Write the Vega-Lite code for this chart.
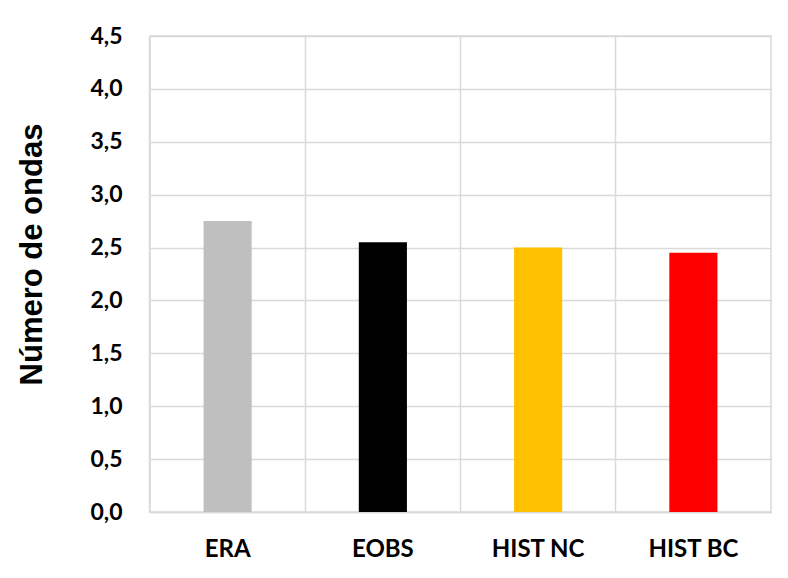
{
  "$schema": "https://vega.github.io/schema/vega-lite/v6.json",
  "autosize": "none",
  "width": 621,
  "height": 476,
  "padding": {"left": 150, "top": 36, "right": 17, "bottom": 66},
  "background": "white",
  "data": {"values": [
    {"modelo": "ERA", "ondas": 2.75},
    {"modelo": "EOBS", "ondas": 2.55},
    {"modelo": "HIST NC", "ondas": 2.5},
    {"modelo": "HIST BC", "ondas": 2.45}
  ]},
  "config": {
    "view": {"stroke": "#d9d9d9", "strokeWidth": 1.5},
    "axis": {"gridColor": "#d9d9d9", "gridWidth": 1.5, "domainColor": "#d9d9d9", "domainWidth": 1.5, "ticks": false}
  },
  "mark": {"type": "bar"},
  "encoding": {
    "x": {
      "field": "modelo", "type": "nominal", "sort": null,
      "scale": {"paddingInner": 0.69, "paddingOuter": 0.345},
      "axis": {"title": null, "labelAngle": 0, "grid": true, "bandPosition": -1.113,
        "labelFont": "Lato", "labelFontWeight": "bold", "labelFontSize": 24, "labelColor": "#000000",
        "labelPadding": 37, "labelBaseline": "middle"}
    },
    "y": {
      "field": "ondas", "type": "quantitative",
      "scale": {"domain": [0, 4.5], "nice": false},
      "axis": {"values": [0, 0.5, 1, 1.5, 2, 2.5, 3, 3.5, 4, 4.5],
        "labelExpr": "replace(format(datum.value, '.1f'), '.', ',')",
        "domain": false,
        "title": "Número de ondas", "titleFont": "Liberation Sans", "titleFontWeight": "bold", "titleFontSize": 31, "titleColor": "#000000",
        "titlePadding": 41, "titleY": 218,
        "labelFont": "Lato", "labelFontWeight": "bold", "labelFontSize": 23, "labelColor": "#000000", "labelPadding": 28}
    },
    "color": {
      "field": "modelo", "type": "nominal", "sort": null, "legend": null,
      "scale": {"domain": ["ERA", "EOBS", "HIST NC", "HIST BC"], "range": ["#bfbfbf", "#000000", "#ffc000", "#ff0000"]}
    }
  }
}
